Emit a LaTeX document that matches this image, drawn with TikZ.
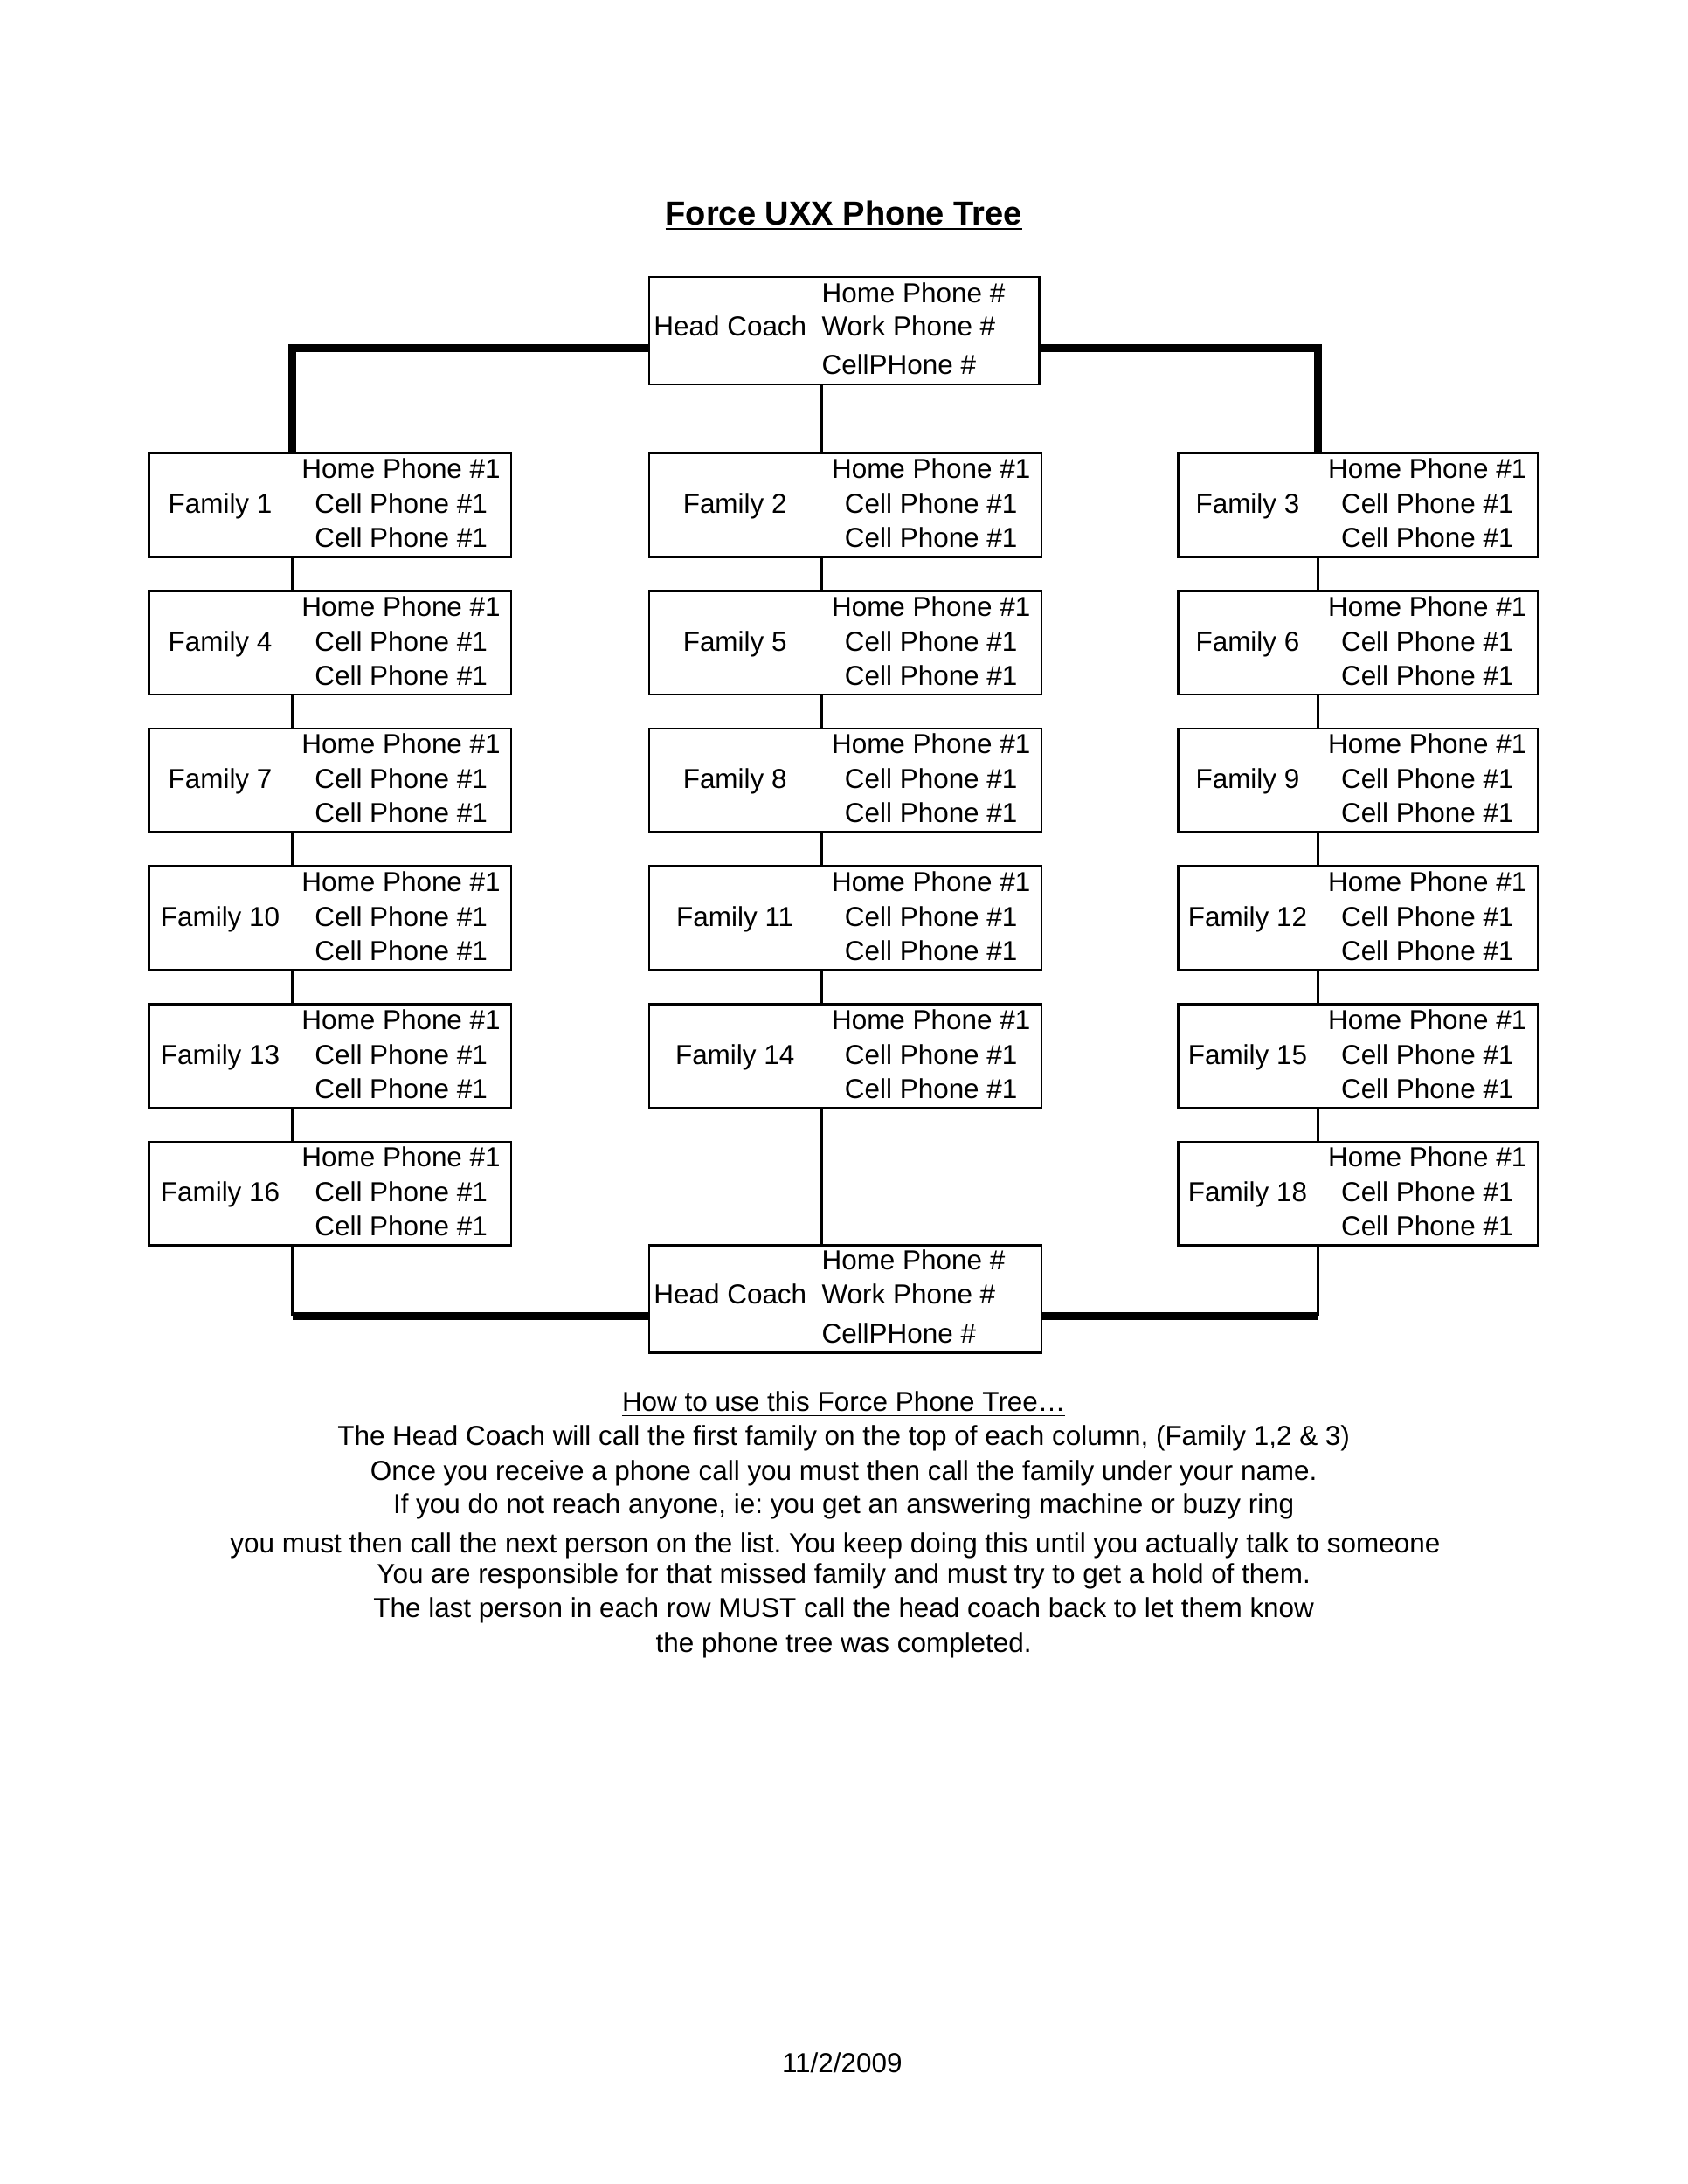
\documentclass[tikz,border=0pt]{standalone}
\usepackage{fontspec}
\setmainfont{Liberation Sans}
\usetikzlibrary{calc}
\frenchspacing

\begin{document}
\begin{tikzpicture}[x=1pt,y=-1pt,
  fambox/.style={draw=black,line width=.85pt,inner sep=0pt,anchor=north west},
  entry/.style={inner sep=0pt,anchor=base,text=black,font=\fontsize{10}{12}\selectfont},
  phone/.style={entry,anchor=base west},
  heading/.style={inner sep=0pt,anchor=base,text=black,font=\fontsize{12.1}{14}\selectfont\bfseries},
  link/.style={draw=black,line width=1pt},
  trunk/.style={draw=black,line width=2.85pt}
]
\fill[white] (0,0) rectangle (614.3,795);
\useasboundingbox (0,0) rectangle (614.3,795);

\node[heading] (title) at (307.1,81.8) {\underline{Force UXX Phone Tree}};

\coordinate (colA) at (106.4,0);
\coordinate (colB) at (299.2,0);
\coordinate (colC) at (479.8,0);

\node[fambox,minimum width=142.1,minimum height=39.1] (hctop) at (235.8,100.4) {};
\node[entry] (coachtop) at (265.8,122.4) {Head Coach};
\node[phone] (hometop) at (298.9,110.2) {Home Phone \#};
\node[phone] (worktop) at (298.9,122.4) {Work Phone \#};
\node[phone] (celltop) at (298.9,136.4) {CellPHone \#};

\foreach \c/\lx/\mx/\rx in {1/53.9/106.4/185.6,2/235.8/299.2/378.6,3/428.4/479.8/559.3}
  \foreach \r in {0,...,5}{
    \pgfmathtruncatemacro\n{3*\r+\c}
    \pgfmathsetmacro\ty{164.5+50.14*\r}
    \ifnum\n=17\else
      \node[fambox,minimum width={\rx-\lx},minimum height=37.7] (fam\n) at (\lx,\ty) {};
      \node[entry] (name\n) at ({(\lx+\mx)/2},{\ty+22.3}) {Family \n};
      \node[entry] (home\n) at ({(\mx+\rx)/2},{\ty+9.6}) {Home Phone \#1};
      \node[entry] (cella\n) at ({(\mx+\rx)/2},{\ty+22.3}) {Cell Phone \#1};
      \node[entry] (cellb\n) at ({(\mx+\rx)/2},{\ty+34.7}) {Cell Phone \#1};
    \fi
  }

\node[fambox,minimum width=142.8,minimum height=39.1] (hcbot) at (235.8,452.8) {};
\node[entry] (coachbot) at (265.8,474.7) {Head Coach};
\node[phone] (homebot) at (298.9,462.3) {Home Phone \#};
\node[phone] (workbot) at (298.9,474.7) {Work Phone \#};
\node[phone] (cellbot) at (298.9,489.0) {CellPHone \#};

\coordinate (topL) at ($(hctop.west)+(0,6.25)$);
\coordinate (topR) at ($(hctop.east)+(0,6.25)$);
\coordinate (botL) at ($(hcbot.west)+(0,6.2)$);
\coordinate (botR) at ($(hcbot.east)+(0,6.2)$);

\draw[trunk] (topL) -| (fam1.north -| colA);
\draw[trunk] (topR) -| (fam3.north -| colC);
\draw[link] (hctop.south -| colB) -- (fam2.north -| colB);

\foreach \a/\b in {1/4,4/7,7/10,10/13,13/16}
  \draw[link] (fam\a.south -| colA) -- (fam\b.north -| colA);
\foreach \a/\b in {2/5,5/8,8/11,11/14}
  \draw[link] (fam\a.south -| colB) -- (fam\b.north -| colB);
\foreach \a/\b in {3/6,6/9,9/12,12/15,15/18}
  \draw[link] (fam\a.south -| colC) -- (fam\b.north -| colC);

\draw[link] (fam16.south -| colA) -- (botL -| colA);
\draw[trunk] (botL -| colA) -- (botL);
\draw[link] (fam18.south -| colC) -- (botR -| colC);
\draw[trunk] (botR -| colC) -- (botR);
\draw[link] (fam14.south -| colB) -- (hcbot.north -| colB);

\node[entry] (howto) at (307.1,513.8) {\underline{How to use this Force Phone Tree…}};
\node[entry] (rule1) at (307.1,526.2) {The Head Coach will call the first family on the top of each column, (Family 1,2 \& 3)};
\node[entry] (rule2) at (307.1,538.9) {Once you receive a phone call you must then call the family under your name.};
\node[entry] (rule3) at (307.1,551.0) {If you do not reach anyone, ie: you get an answering machine or buzy ring};
\node[entry] (rule4) at (304.0,565.3) {you must then call the next person on the list. You keep doing this until you actually talk to someone};
\node[entry] (rule5) at (307.1,576.4) {You are responsible for that missed family and must try to get a hold of them.};
\node[entry] (rule6) at (307.1,588.9) {The last person in each row MUST call the head coach back to let them know};
\node[entry] (rule7) at (307.1,601.6) {the phone tree was completed.};

\node[entry] (date) at (306.5,754.5) {11/2/2009};
\end{tikzpicture}
\end{document}
